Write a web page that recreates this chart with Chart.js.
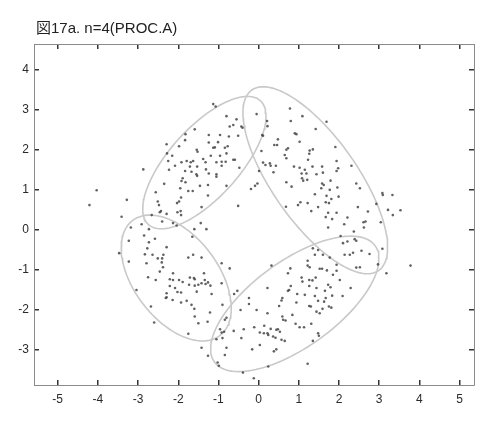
<!DOCTYPE html>
<html>
<head>
<meta charset="utf-8">
<script src="https://cdn.jsdelivr.net/npm/chart.js@4.4.1/dist/chart.umd.min.js"></script>
<style>
  body { margin: 0; background: #fff; }
  #wrap { position: relative; width: 492px; height: 427px; }
  #title { position: absolute; left: 36px; top: 20px; font: 15px "Liberation Sans", "Noto Sans CJK JP", sans-serif; line-height: 15px; color: #222; white-space: nowrap; }
</style>
</head>
<body>
<div id="wrap">
  <canvas id="plot" width="492" height="427"></canvas>
  <div id="title">図17a. n=4(PROC.A)</div>
</div>
<script>
// samples, grouped by the area they sit in
var upperLeft = [
  [-1.13,3.14],[-1.07,3.08],[-0.80,2.84],[-0.55,2.76],[-0.63,2.62],[-0.72,2.58],[-0.43,2.58],[-0.40,2.55],
  [-1.59,2.51],[-1.82,2.39],[-1.24,2.37],[-0.96,2.37],[-0.74,2.33],[-0.51,2.35],[-1.83,2.24],[-1.24,2.18],
  [-1.01,2.19],[-2.29,2.14],[-1.98,2.09],[-1.13,2.05],[-1.09,2.06],[-0.84,2.05],[-0.77,2.09],[-1.54,2.00],
  [-1.52,1.95],[-2.28,1.91],[-2.15,1.85],[-1.19,1.85],[-0.96,1.85],[-0.80,1.91],[-1.38,1.77],[-0.63,1.75],
  [-0.59,1.75],[-2.25,1.72],[-1.92,1.69],[-1.79,1.72],[-1.69,1.69],[-1.63,1.72],[-1.32,1.69],[-1.05,1.69],
  [-0.92,1.70],[-0.82,1.70],[-2.08,1.60],[-1.71,1.58],[-1.53,1.58],[-0.92,1.60],[-0.48,1.55],[-2.87,1.51],
  [-2.23,1.50],[-1.83,1.47],[-1.67,1.45],[-1.31,1.51],[-1.24,1.41],[-1.55,1.39],[-1.53,1.35],[-1.05,1.39],
  [-1.05,1.33],[-1.89,1.29],[-1.92,1.22],[-1.82,1.19],[-2.35,1.15],[-1.46,1.10],[-1.26,1.12],[-0.80,1.10],
  [-1.95,1.04],[-1.75,0.97],[-1.64,0.97],[-2.56,0.94],[-4.03,0.99],[-1.26,0.86],[-3.28,0.75],[-1.93,0.81],
  [-1.98,0.71],[-2.03,0.67],[-2.51,0.71],[-2.48,0.62],[-4.21,0.62],[-1.42,0.57],[-0.51,0.60],[-2.43,0.47],
  [-2.46,0.44],[-2.66,0.37],[-2.02,0.44],[-1.94,0.47],[-1.93,0.37],[-2.29,0.40],[-3.41,0.33],[-2.91,0.14],
  [-2.40,0.21],[-2.13,0.17],[-2.04,0.11],[-1.44,0.17],[-3.18,0.06],[-2.73,0.02],[-1.60,0.02],[-1.30,0.02]
];
var upperRight = [
  [-0.05,2.89],[0.78,3.03],[1.09,2.84],[1.69,2.70],[0.21,2.72],[0.22,2.59],[0.80,2.72],[1.42,2.52],
  [0.90,2.41],[0.94,2.39],[0.09,2.37],[0.11,2.35],[0.48,2.26],[1.02,2.20],[0.39,2.12],[0.46,2.12],
  [0.73,2.04],[0.69,2.00],[1.91,2.07],[1.27,1.98],[1.35,2.01],[0.07,1.97],[0.65,1.87],[0.69,1.79],
  [1.26,1.90],[1.23,1.75],[1.94,1.72],[0.11,1.68],[0.17,1.62],[0.28,1.66],[0.30,1.60],[0.43,1.60],
  [0.88,1.58],[1.02,1.55],[1.15,1.50],[1.34,1.58],[1.58,1.58],[1.98,1.54],[1.94,1.47],[2.31,1.60],
  [0.01,1.47],[0.37,1.44],[1.07,1.41],[1.19,1.41],[1.44,1.39],[1.60,1.43],[1.08,1.29],[1.11,1.23],
  [1.21,1.25],[1.79,1.23],[0.69,1.19],[1.58,1.16],[1.62,1.12],[0.82,1.08],[1.56,1.04],[1.77,1.00],
  [1.96,1.06],[2.43,1.16],[2.52,1.04],[-0.03,1.16],[-0.09,1.10],[-0.19,1.02],[1.40,0.89],[1.69,0.85],
  [1.99,0.83],[3.08,0.92],[3.09,0.87],[3.33,0.87],[1.04,0.69],[0.98,0.62],[1.22,0.67],[1.67,0.69],
  [1.75,0.67],[1.81,0.77],[0.68,0.58],[1.48,0.57],[2.47,0.57],[2.93,0.65],[1.31,0.47],[1.73,0.43],
  [1.94,0.43],[2.72,0.46],[3.22,0.50],[3.34,0.37],[3.53,0.49],[1.67,0.32],[1.83,0.27],[2.21,0.31],
  [2.61,0.19],[2.66,0.21],[3.04,0.19],[2.13,0.14],[1.73,0.06],[2.62,0.06],[2.37,-0.04]
];
var lowerLeft = [
  [-2.85,-0.14],[-2.58,-0.22],[-3.23,-0.27],[-2.73,-0.31],[-1.65,-0.17],[-2.29,-0.43],[-2.77,-0.46],[-3.47,-0.58],
  [-2.83,-0.61],[-2.64,-0.62],[-2.37,-0.62],[-1.63,-0.62],[-1.75,-0.69],[-1.42,-0.69],[-2.51,-0.71],[-2.40,-0.71],
  [-3.23,-0.79],[-2.79,-0.83],[-2.41,-0.81],[-0.92,-0.83],[-0.72,-0.96],[-2.38,-0.93],[-2.46,-1.04],[-2.13,-1.08],
  [-1.36,-1.08],[-2.75,-1.18],[-2.56,-1.25],[-2.21,-1.23],[-2.13,-1.25],[-1.71,-1.19],[-1.61,-1.20],[-1.59,-1.23],
  [-1.98,-1.25],[-1.89,-1.30],[-1.34,-1.25],[-1.26,-1.31],[-0.92,-1.33],[-2.21,-1.40],[-1.73,-1.37],[-1.59,-1.39],
  [-1.50,-1.37],[-1.42,-1.33],[-1.32,-1.35],[-1.20,-1.39],[-2.08,-1.45],[-3.04,-1.50],[-2.02,-1.55],[-1.93,-1.56],
  [-2.29,-1.58],[-1.54,-1.54],[-0.53,-1.52],[-0.61,-1.60],[-1.17,-1.60],[-2.29,-1.68],[-2.31,-1.70],[-2.14,-1.75],
  [-1.93,-1.81],[-1.79,-1.77],[-1.67,-1.87],[-0.90,-1.87],[-2.68,-1.91],[-1.60,-1.97],[-0.45,-2.00],[-1.21,-2.06],
  [-1.59,-2.16],[-0.80,-2.19],[-0.84,-2.24],[-1.27,-2.29],[-1.50,-2.33],[-2.60,-2.31],[-0.96,-2.48],[-0.92,-2.56],
  [-0.86,-2.54],[-0.62,-2.52],[-0.37,-2.48],[-1.75,-2.59],[-1.05,-2.73],[-0.90,-2.70],[-0.43,-2.70],[-1.42,-2.94],
  [-0.80,-2.94],[-1.26,-3.14],[-0.84,-3.12],[-1.02,-3.31],[-0.99,-3.39],[-0.39,-3.56]
];
var lowerRight = [
  [2.04,-0.15],[2.21,-0.29],[2.10,-0.33],[2.39,-0.23],[2.43,-0.27],[1.35,-0.46],[1.48,-0.50],[2.56,-0.52],
  [3.08,-0.47],[2.14,-0.62],[2.27,-0.62],[2.35,-0.57],[2.76,-0.60],[1.40,-0.62],[1.60,-0.62],[1.77,-0.69],
  [1.22,-0.77],[2.97,-0.86],[3.78,-0.89],[0.32,-0.89],[1.22,-0.89],[1.27,-0.93],[1.94,-0.87],[2.43,-0.94],
  [2.52,-0.93],[3.18,-1.08],[1.52,-0.97],[1.58,-0.97],[1.70,-1.01],[0.79,-0.96],[0.73,-1.08],[1.94,-1.02],
  [1.85,-1.12],[1.07,-1.19],[1.42,-1.19],[1.26,-1.25],[1.34,-1.26],[1.09,-1.29],[2.02,-1.25],[1.73,-1.37],
  [1.79,-1.43],[0.80,-1.40],[1.26,-1.40],[1.44,-1.45],[0.22,-1.45],[0.76,-1.50],[0.73,-1.52],[2.29,-1.45],
  [1.65,-1.52],[0.96,-1.60],[1.15,-1.62],[1.40,-1.65],[1.83,-1.64],[2.09,-1.65],[0.59,-1.70],[0.57,-1.76],
  [-0.24,-1.70],[1.67,-1.70],[1.63,-1.79],[1.48,-1.77],[0.94,-1.81],[-0.24,-1.85],[1.26,-1.90],[1.30,-1.91],
  [1.75,-1.91],[1.81,-1.94],[0.51,-1.90],[1.59,-1.97],[-0.05,-2.00],[0.22,-2.08],[1.44,-2.04],[1.52,-2.08],
  [0.84,-2.12],[0.59,-2.16],[0.61,-2.24],[0.67,-2.26],[0.92,-2.34],[1.31,-2.34],[1.02,-2.43],[1.13,-2.43],
  [0.14,-2.39],[-0.11,-2.43],[0.30,-2.47],[0.44,-2.49],[0.53,-2.54],[0.48,-2.48],[0.03,-2.56],[0.13,-2.58],
  [0.24,-2.62],[0.22,-2.58],[0.36,-2.66],[0.42,-2.69],[1.48,-2.58],[1.50,-2.64],[0.57,-2.74],[0.65,-2.77],
  [1.35,-2.77],[0.03,-2.87],[0.44,-2.98],[0.38,-3.03],[-0.16,-2.98],[1.22,-3.34],[0.24,-3.41],[-0.12,-3.70]
];

// fitted ellipses: centre, semi axes, rotation in degrees
var ellipseCx = [-1.35, 1.41, -2.05, 0.90];
var ellipseCy = [1.68, 1.24, -1.20, -1.845];
var ellipseA = [2.08, 2.75, 1.80, 2.47];
var ellipseB = [0.87, 1.06, 1.05, 1.07];
var ellipseAngle = [48, -55, -53, 36];

var xTicks = [-5, -4, -3, -2, -1, 0, 1, 2, 3, 4, 5];
var yTicks = [-3, -2, -1, 0, 1, 2, 3, 4];

function toPoints(list) {
    var out = [];
    for (var i = 0; i < list.length; i++) {
        out.push({x: list[i][0], y: list[i][1]});
    }
    return out;
}

function ellipseOutline(k) {
    var pts = [];
    var t = ellipseAngle[k] * Math.PI / 180;
    for (var i = 0; i <= 120; i++) {
        var s = i / 120 * 2 * Math.PI;
        var u = ellipseA[k] * Math.cos(s);
        var v = ellipseB[k] * Math.sin(s);
        pts.push({x: ellipseCx[k] + u * Math.cos(t) - v * Math.sin(t),
                  y: ellipseCy[k] + u * Math.sin(t) + v * Math.cos(t)});
    }
    return pts;
}

var dataset = [];
dataset.push({
    data: toPoints(upperLeft.concat(upperRight, lowerLeft, lowerRight)),
    pointRadius: 1.3,
    pointBackgroundColor: 'rgba(70,70,70,0.85)',
    pointBorderWidth: 0,
    showLine: false,
    order: 0
});
for (var k = 0; k < ellipseCx.length; k++) {
    dataset.push({
        data: ellipseOutline(k),
        showLine: true,
        pointRadius: 0,
        borderColor: '#c9c9c9',
        borderWidth: 1.6,
        fill: false,
        tension: 0,
        order: 1
    });
}

function tickList(vals) {
    return function(scale) {
        scale.ticks = vals.map(function(v) { return {value: v}; });
    };
}

var tickFont = {family: "'Liberation Sans', Arial, sans-serif", size: 12};
var gridOpts = {drawOnChartArea: false, drawTicks: true, tickLength: -5, color: '#333', lineWidth: 1.5};
var borderOpts = {color: '#8a8a8a', width: 1};

var chart = new Chart(document.getElementById('plot'), {
    type: 'scatter',
    data: {datasets: dataset},
    options: {
        responsive: false,
        animation: false,
        layout: {padding: {top: 44, right: 18, bottom: 0, left: 0}},
        plugins: {legend: {display: false}, tooltip: {enabled: false}},
        scales: {
            x: {
                type: 'linear', position: 'bottom', min: -5.59, max: 5.36,
                afterBuildTicks: tickList(xTicks),
                afterFit: function(s) { s.height = 42; },
                grid: gridOpts, border: borderOpts,
                ticks: {font: tickFont, color: '#2a2a2a', padding: 12, maxRotation: 0}
            },
            y: {
                type: 'linear', position: 'left', min: -3.87, max: 4.64,
                afterBuildTicks: tickList(yTicks),
                afterFit: function(s) { s.width = 34; },
                grid: gridOpts, border: borderOpts,
                ticks: {font: tickFont, color: '#2a2a2a', padding: 10}
            },
            x2: {
                type: 'linear', position: 'top', min: -5.59, max: 5.36,
                afterBuildTicks: tickList(xTicks),
                afterFit: function(s) { s.height = 0; },
                grid: gridOpts, border: borderOpts,
                ticks: {display: false}
            },
            y2: {
                type: 'linear', position: 'right', min: -3.87, max: 4.64,
                afterBuildTicks: tickList(yTicks),
                afterFit: function(s) { s.width = 0; },
                grid: gridOpts, border: borderOpts,
                ticks: {display: false}
            }
        }
    }
});
</script>
</body>
</html>
